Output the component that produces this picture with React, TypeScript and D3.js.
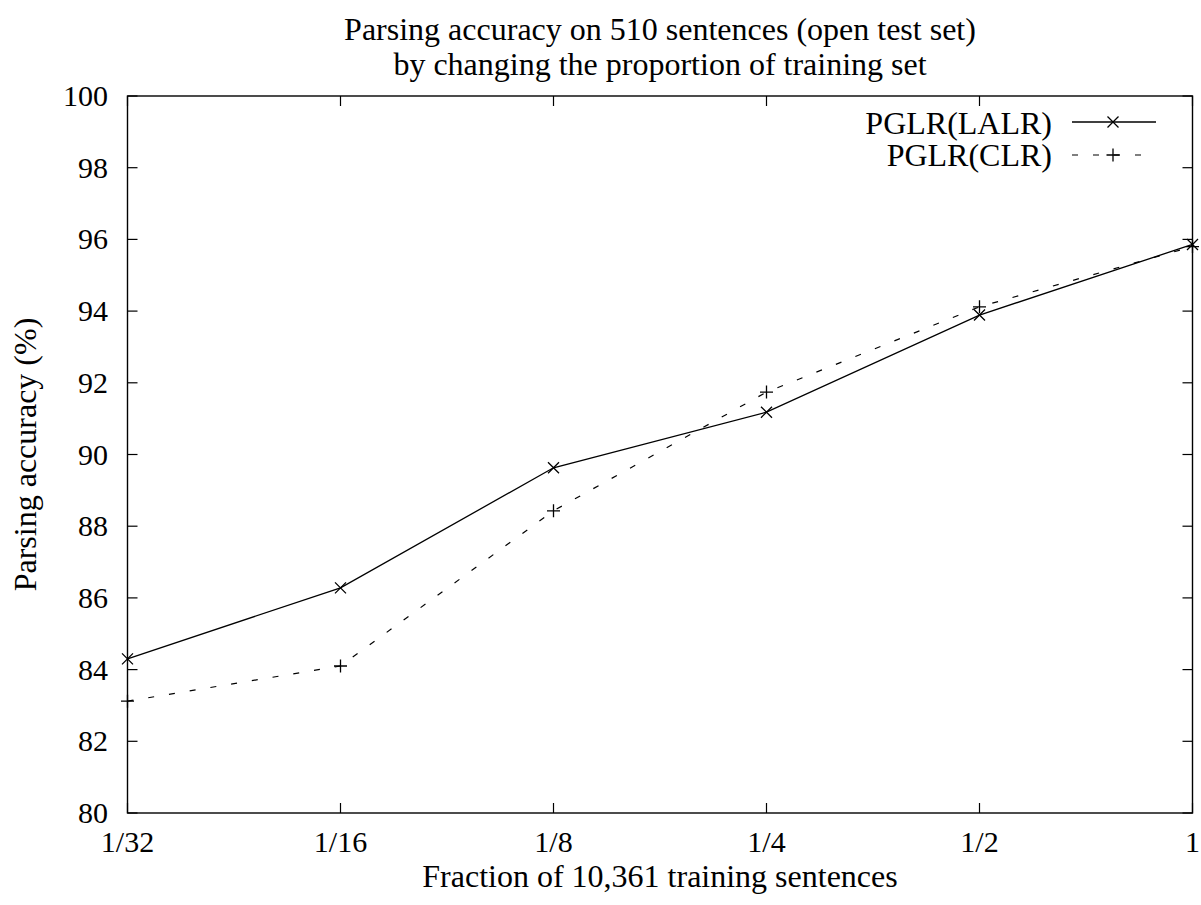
import React from "react";
import * as d3 from "d3";

const fractions = [1 / 32, 1 / 16, 1 / 8, 1 / 4, 1 / 2, 1];
const tickLabels = ["1/32", "1/16", "1/8", "1/4", "1/2", "1"];
const lalr = [84.3, 86.28, 89.63, 91.18, 93.89, 95.86];
const clr = [83.12, 84.1, 88.43, 91.74, 94.12, 95.8];
const yTicks = [80, 82, 84, 86, 88, 90, 92, 94, 96, 98, 100];

const W = 1201;
const H = 905;
const L = 127.5;
const R = 1192.5;
const T = 96;
const B = 813;
const FONT = "Liberation Serif";
const FS = 32;
const TFS = 30;

export default function App() {
  const x = d3.scaleLog().base(2).domain([1 / 32, 1]).range([L, R]);
  const y = d3.scaleLinear().domain([80, 100]).range([B, T]);
  const line = d3
    .line<number>()
    .x((_, i) => x(fractions[i]))
    .y((d) => y(d));
  const m = 5.5;
  const cross = (cx: number, cy: number, k: string) => (
    <path key={k} d={`M${cx - m},${cy - m}L${cx + m},${cy + m}M${cx - m},${cy + m}L${cx + m},${cy - m}`} stroke="#000" strokeWidth={1.3} fill="none" />
  );
  const plus = (cx: number, cy: number, k: string) => (
    <path key={k} d={`M${cx - 6.5},${cy}L${cx + 6.5},${cy}M${cx},${cy - 6.5}L${cx},${cy + 6.5}`} stroke="#000" strokeWidth={1.3} fill="none" />
  );
  const tk = 10;
  return (
    <svg width={W} height={H} style={{ position: "absolute", left: 0, top: 0, background: "#fff", fontFamily: FONT }}>
      <rect x={0} y={0} width={W} height={H} fill="#fff" />
      <text x={(L + R) / 2} y={40} textAnchor="middle" fontSize={FS}>Parsing accuracy on 510 sentences (open test set)</text>
      <text x={(L + R) / 2} y={75} textAnchor="middle" fontSize={FS}>by changing the proportion of training set</text>
      {yTicks.map((v) => (
        <g key={"y" + v}>
          <line x1={L} x2={L + tk} y1={y(v)} y2={y(v)} stroke="#000" strokeWidth={1.2} />
          <line x1={R} x2={R - tk} y1={y(v)} y2={y(v)} stroke="#000" strokeWidth={1.2} />
          <text x={108} y={y(v) + 10} textAnchor="end" fontSize={TFS}>{v}</text>
        </g>
      ))}
      {fractions.map((f, i) => (
        <g key={"x" + i}>
          <line x1={x(f)} x2={x(f)} y1={B} y2={B - tk} stroke="#000" strokeWidth={1.2} />
          <line x1={x(f)} x2={x(f)} y1={T} y2={T + tk} stroke="#000" strokeWidth={1.2} />
          <text x={x(f)} y={852} textAnchor="middle" fontSize={TFS}>{tickLabels[i]}</text>
        </g>
      ))}
      <rect x={L} y={T} width={R - L} height={B - T} fill="none" stroke="#000" strokeWidth={1.4} />
      <text x={(L + R) / 2} y={887} textAnchor="middle" fontSize={FS}>Fraction of 10,361 training sentences</text>
      <text transform={`translate(36,${(T + B) / 2}) rotate(-90)`} textAnchor="middle" fontSize={FS}>Parsing accuracy (%)</text>
      <path d={line(lalr) || ""} fill="none" stroke="#000" strokeWidth={1.3} />
      <path d={line(clr) || ""} fill="none" stroke="#000" strokeWidth={1.2} strokeDasharray="6,15" />
      {lalr.map((v, i) => cross(x(fractions[i]), y(v), "c" + i))}
      {clr.map((v, i) => plus(x(fractions[i]), y(v), "p" + i))}
      <text x={1052} y={134} textAnchor="end" fontSize={FS}>PGLR(LALR)</text>
      <line x1={1072} x2={1156} y1={122} y2={122} stroke="#000" strokeWidth={1.3} />
      {cross(1113, 122, "lc")}
      <text x={1052} y={166} textAnchor="end" fontSize={FS}>PGLR(CLR)</text>
      <line x1={1072} x2={1156} y1={155} y2={155} stroke="#000" strokeWidth={1.2} strokeDasharray="6,15" />
      {plus(1113, 155, "lp")}
    </svg>
  );
}
